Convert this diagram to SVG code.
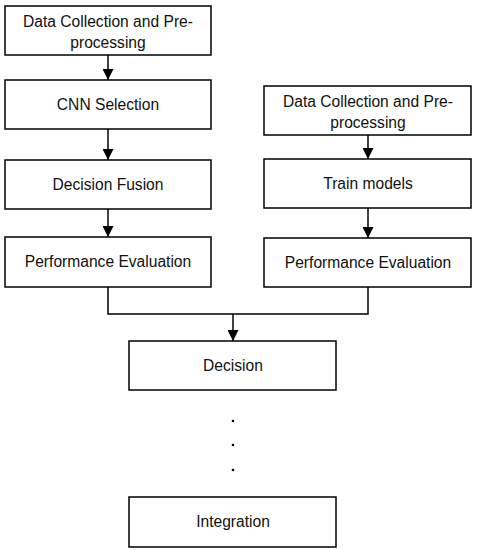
<svg xmlns="http://www.w3.org/2000/svg" width="477" height="550" viewBox="0 0 477 550">
<style>
.box{fill:#fff;stroke:#000;stroke-width:1.5}
.t{font-family:"Liberation Sans",Arial,sans-serif;font-size:15.6px;fill:#111;text-anchor:middle}
.c{fill:none;stroke:#000;stroke-width:1.5}
</style>
<defs>
<marker id="ah" markerWidth="11" markerHeight="11" viewBox="0 0 11 11" refX="11" refY="5.5" orient="auto" markerUnits="userSpaceOnUse">
<path d="M0,0 L11,5.5 L0,11 Z" fill="#000"/>
</marker>
</defs>
<rect width="477" height="550" fill="#fff"/>
<g id="connectors">
<line class="c" x1="108" y1="55" x2="108" y2="80" marker-end="url(#ah)"/>
<line class="c" x1="108" y1="129" x2="108" y2="160" marker-end="url(#ah)"/>
<line class="c" x1="108" y1="209" x2="108" y2="237" marker-end="url(#ah)"/>
<line class="c" x1="368" y1="135" x2="368" y2="159" marker-end="url(#ah)"/>
<line class="c" x1="368" y1="208" x2="368" y2="238" marker-end="url(#ah)"/>
<polyline class="c" points="108,287 108,314 368,314 368,287"/>
<line class="c" x1="233" y1="314" x2="233" y2="341" marker-end="url(#ah)"/>
</g>
<g id="n1"><rect class="box" x="5" y="6" width="206" height="49"/><text class="t" x="108" y="27">Data Collection and Pre-</text><text class="t" x="108" y="48">processing</text></g>
<g id="n2"><rect class="box" x="5" y="80" width="206" height="49"/><text class="t" x="108" y="110">CNN Selection</text></g>
<g id="n3"><rect class="box" x="5" y="160" width="206" height="49"/><text class="t" x="108" y="190">Decision Fusion</text></g>
<g id="n4"><rect class="box" x="5" y="237" width="206" height="50"/><text class="t" x="108" y="267">Performance Evaluation</text></g>
<g id="n5"><rect class="box" x="264" y="86" width="207" height="49"/><text class="t" x="368" y="107">Data Collection and Pre-</text><text class="t" x="368" y="128">processing</text></g>
<g id="n6"><rect class="box" x="264" y="159" width="207" height="49"/><text class="t" x="368" y="189">Train models</text></g>
<g id="n7"><rect class="box" x="264" y="238" width="207" height="49"/><text class="t" x="368" y="268">Performance Evaluation</text></g>
<g id="n8"><rect class="box" x="129" y="341" width="207" height="49"/><text class="t" x="233" y="371">Decision</text></g>
<g id="dots"><circle cx="233" cy="421" r="1.3" fill="#000"/><circle cx="233" cy="445" r="1.3" fill="#000"/><circle cx="233" cy="470" r="1.3" fill="#000"/></g>
<g id="n9"><rect class="box" x="129" y="497" width="207" height="50"/><text class="t" x="233" y="527">Integration</text></g>
</svg>
